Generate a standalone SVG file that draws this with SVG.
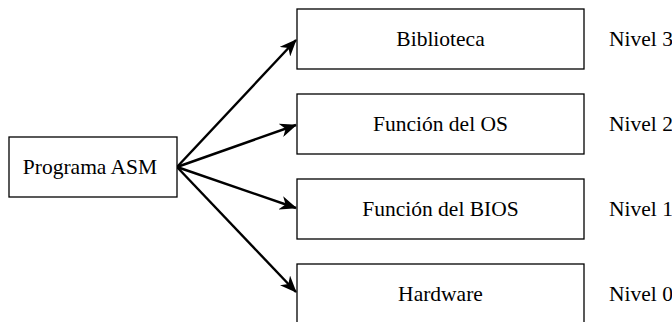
<svg xmlns="http://www.w3.org/2000/svg" width="672" height="322" viewBox="0 0 672 322">
<defs>
<style>
.box{fill:#fff;stroke:#000;stroke-width:1.3}
text{font-family:'Liberation Serif','Times New Roman','DejaVu Serif',serif;font-size:21.5px;fill:#000;dominant-baseline:central}
.t{text-anchor:middle}
.c{fill:none;stroke:#000;stroke-width:2.4}
</style>
<marker id="ah" markerWidth="18" markerHeight="14" refX="16" refY="7" orient="auto" markerUnits="userSpaceOnUse">
<path d="M0,0 L17,7 L0,14 L5,7 Z" fill="#000"/>
</marker>
</defs>
<rect width="672" height="322" fill="#fff"/>
<g id="connectors">
<line class="c" x1="177" y1="167" x2="296" y2="40" marker-end="url(#ah)"/>
<line class="c" x1="177" y1="167" x2="296" y2="125" marker-end="url(#ah)"/>
<line class="c" x1="177" y1="167" x2="296" y2="208" marker-end="url(#ah)"/>
<line class="c" x1="177" y1="167" x2="296" y2="292" marker-end="url(#ah)"/>
</g>
<g id="asm">
<rect class="box" x="9" y="137" width="168" height="60"/>
<text class="t" x="90" y="167">Programa ASM</text>
</g>
<g id="biblioteca">
<rect class="box" x="297" y="9" width="287" height="60"/>
<text class="t" x="440.5" y="39">Biblioteca</text>
</g>
<g id="os">
<rect class="box" x="297" y="94" width="287" height="60"/>
<text class="t" x="440.5" y="124">Función del OS</text>
</g>
<g id="bios">
<rect class="box" x="297" y="179" width="287" height="60"/>
<text class="t" x="440.5" y="209">Función del BIOS</text>
</g>
<g id="hardware">
<rect class="box" x="297" y="264" width="287" height="62"/>
<text class="t" x="440.5" y="294">Hardware</text>
</g>
<g id="levels">
<text x="609" y="39">Nivel 3</text>
<text x="609" y="124">Nivel 2</text>
<text x="609" y="209">Nivel 1</text>
<text x="609" y="294">Nivel 0</text>
</g>
</svg>
